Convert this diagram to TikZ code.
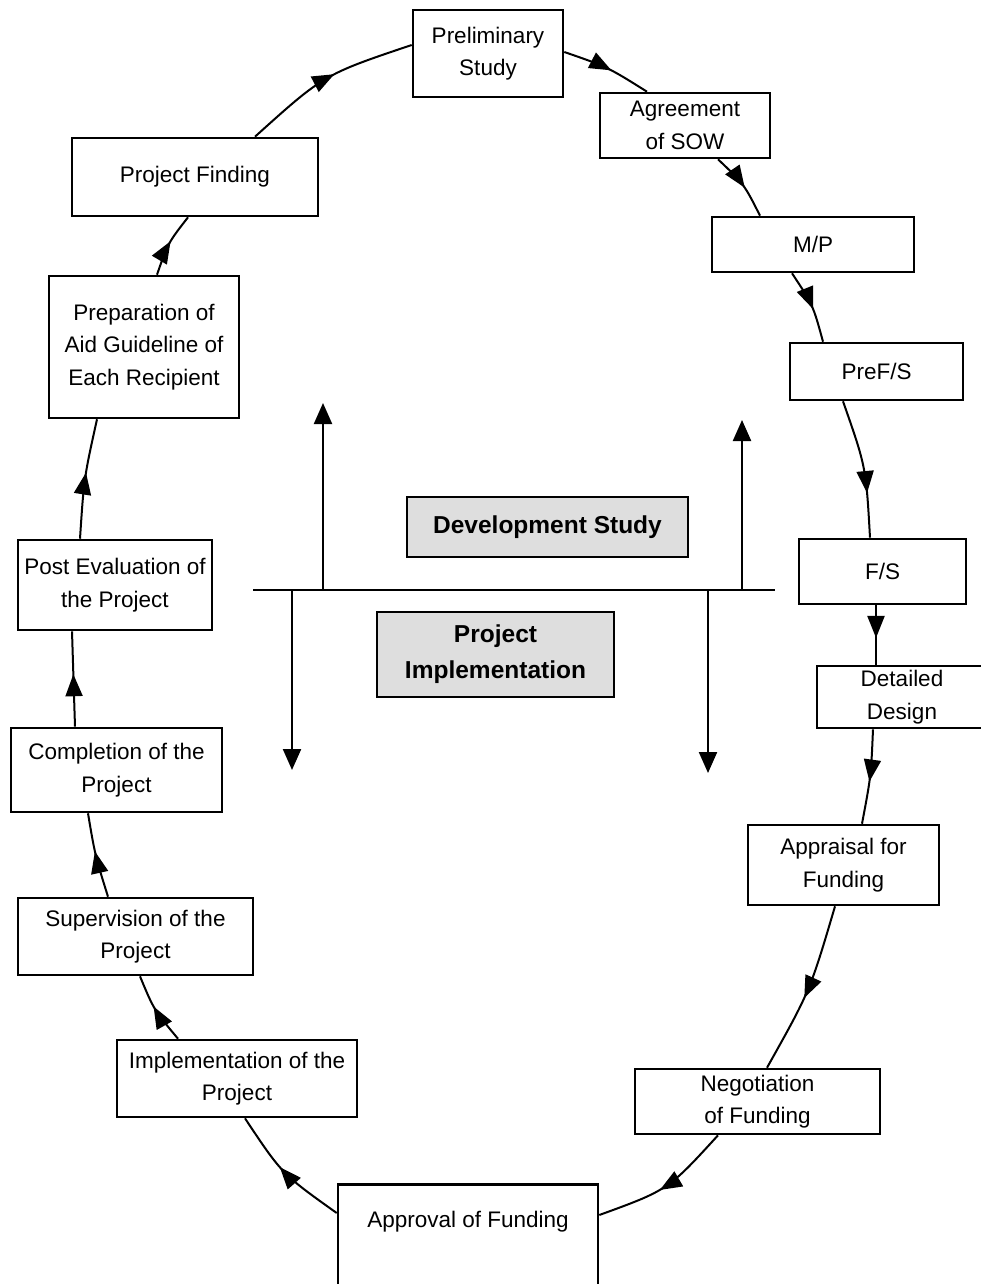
\documentclass[tikz,border=0pt]{standalone}
\usepackage{fontspec}
\setmainfont{Liberation Sans}
\usetikzlibrary{arrows.meta,decorations.markings,calc}
\begin{document}
\begin{tikzpicture}[x=1pt,y=-1pt,
  box/.style={draw, line width=2.6pt, rectangle, inner sep=0pt, align=center,
    font=\fontsize{22.5}{32.5}\selectfont},
  band/.style={draw, line width=2.6pt, fill=black!13, inner sep=0pt, align=center,
    font=\fontsize{24.5}{36}\selectfont\bfseries},
  link/.style={line width=2pt},
  midarrow/.style={decoration={markings, mark=at position #1 with
    {\arrow{Triangle[length=22pt,width=17pt]}}}, postaction={decorate}},
  midarrow/.default=0.55,
  shaft/.style={line width=2.2pt, -{Triangle[length=21pt,width=18pt]}}
]
\useasboundingbox (0,0) rectangle (981,1284);
\fill[white] (0,0) rectangle (981,1284);

% stages of the cycle, clockwise from the top
\node[box, minimum width=150pt, minimum height=87pt] (prelim) at (488,53.5) {Preliminary\\Study};
\node[box, minimum width=170pt, minimum height=65pt] (agree) at (685,125.5) {Agreement\\of SOW};
\node[box, minimum width=202pt, minimum height=55pt] (mp) at (813,244.5) {M/P};
\node[box, minimum width=173pt, minimum height=57pt] (pref) at (876.5,371.5) {PreF/S};
\node[box, minimum width=167pt, minimum height=65pt] (fs) at (882.5,571.5) {F/S};
\node[box, minimum width=170pt, minimum height=62pt] (det) at (902,697) {Detailed\\Design};
\node[box, minimum width=191pt, minimum height=80pt] (appr) at (843.5,865) {Appraisal for\\Funding};
\node[box, minimum width=245pt, minimum height=65pt] (nego) at (757.5,1101.5) {Negotiation\\of Funding};
\node[box, anchor=north, minimum width=260pt, text height=43pt, text depth=74pt] (approv) at (468,1183) {Approval of Funding};
\node[box, minimum width=240pt, minimum height=77pt] (impl) at (237,1078.5) {Implementation of the\\Project};
\node[box, minimum width=235pt, minimum height=77pt] (sup) at (135.5,936.5) {Supervision of the\\Project};
\node[box, minimum width=211pt, minimum height=84pt] (comp) at (116.5,770) {Completion of the\\Project};
\node[box, minimum width=194pt, minimum height=90pt] (post) at (115,585) {Post Evaluation of\\the Project};
\node[box, minimum width=190pt, minimum height=142pt] (prep) at (144,347) {Preparation of\\Aid Guideline of\\Each Recipient};
\node[box, minimum width=246pt, minimum height=78pt] (fin) at (195,177) {Project Finding};

% connectors of the cycle
\draw[link, midarrow] ($(fin.north)+(60,0)$) .. controls (324,74.5) .. ($(prelim.west)+(0,-8.5)$);
\draw[link, midarrow] ($(prelim.east)+(0,-1.5)$) .. controls (607.6,67) .. ($(agree.north)+(-38,0)$);
\draw[link, midarrow] ($(agree.south)+(33,0)$) .. controls (744,184) .. ($(mp.north)+(-53,0)$);
\draw[link, midarrow] ($(mp.south)+(-21,0)$) .. controls (813,305) .. ($(pref.north)+(-53.5,0)$);
\draw[link, midarrow=0.68] ($(pref.south)+(-33.5,0)$) .. controls (866,467) .. ($(fs.north)+(-12.5,0)$);
\draw[link, midarrow] ($(fs.south)+(-6.5,0)$) -- ($(det.north)+(-26,0)$);
\draw[link, midarrow] ($(det.south)+(-29,0)$) .. controls (871,776) .. ($(appr.north)+(18.5,0)$);
\draw[link, midarrow] ($(appr.south)+(-8.5,0)$) .. controls (810,991) .. ($(nego.north)+(9.5,0)$);
\draw[link, midarrow] ($(nego.south)+(-39.5,0)$) .. controls (668,1190) .. ($(approv.north east)+(0,32)$);
\draw[link, midarrow] ($(approv.north west)+(0,30)$) .. controls (282,1174) .. ($(impl.south)+(8,0)$);
\draw[link, midarrow] ($(impl.north)+(-59,0)$) .. controls (154,1010) .. ($(sup.south)+(4.5,0)$);
\draw[link, midarrow] ($(sup.north)+(-27.5,0)$) .. controls (95,855) .. ($(comp.south)+(-28.5,0)$);
\draw[link, midarrow] ($(comp.north)+(-41.5,0)$) -- ($(post.south)+(-43,0)$);
\draw[link, midarrow] ($(post.north)+(-35,0)$) .. controls (84,478) .. ($(prep.south)+(-47,0)$);
\draw[link, midarrow] ($(prep.north)+(13,0)$) .. controls (168,243) .. ($(fin.south)+(-7,0)$);

% dividing line between the two phases
\coordinate (divL) at (253,590);
\coordinate (divR) at (775,590);
\draw[line width=2.8pt] (divL) -- (divR);

\coordinate (upA) at (323,590);
\coordinate (upAtip) at (323,403);
\coordinate (upB) at (742,590);
\coordinate (upBtip) at (742,420);
\coordinate (dnA) at (292,590);
\coordinate (dnAtip) at (292,770);
\coordinate (dnB) at (708,590);
\coordinate (dnBtip) at (708,773);
\draw[shaft] (upA) -- (upAtip);
\draw[shaft] (upB) -- (upBtip);
\draw[shaft] (dnA) -- (dnAtip);
\draw[shaft] (dnB) -- (dnBtip);

\node[band, minimum width=281pt, minimum height=60pt] (dev) at (547.5,527) {Development Study};
\node[band, minimum width=237pt, minimum height=85pt] (pimp) at (495.5,654.5) {Project\\Implementation};
\end{tikzpicture}
\end{document}
